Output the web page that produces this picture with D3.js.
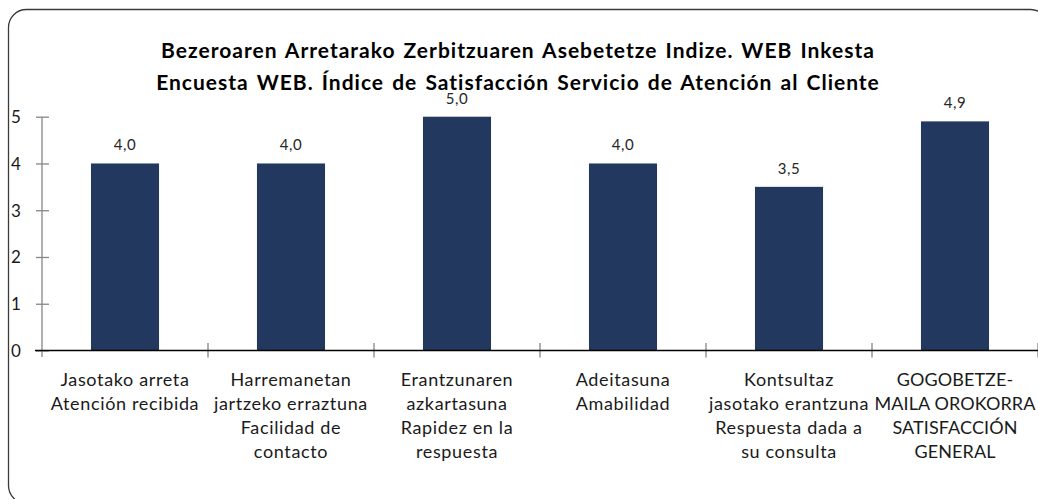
<!DOCTYPE html>
<html>
<head>
<meta charset="utf-8">
<script src="https://cdn.jsdelivr.net/npm/d3@7"></script>
<style>
  html, body { margin: 0; padding: 0; background: #fff; }
  svg { display: block; font-family: Lato, "Noto Sans", sans-serif; }
</style>
</head>
<body>
<svg id="chart" width="1038" height="499"></svg>
<script>
const titleLines = [
  "Bezeroaren Arretarako Zerbitzuaren Asebetetze Indize. WEB Inkesta",
  "Encuesta WEB. Índice de Satisfacción Servicio de Atención al Cliente"
];
const categories = [
  ["Jasotako arreta", "Atención recibida"],
  ["Harremanetan", "jartzeko erraztuna", "Facilidad de", "contacto"],
  ["Erantzunaren", "azkartasuna", "Rapidez en la", "respuesta"],
  ["Adeitasuna", "Amabilidad"],
  ["Kontsultaz", "jasotako erantzuna", "Respuesta dada a", "su consulta"],
  ["GOGOBETZE-", "MAILA OROKORRA", "SATISFACCIÓN", "GENERAL"]
];
const values = [4.0, 4.0, 5.0, 4.0, 3.5, 4.9];
const yTicks = [0, 1, 2, 3, 4, 5];

(function () {
const svg = d3.select("#chart");
const pLeft = 42, pRight = 1038, pTop = 116.7, pBottom = 350.5;

// frame
svg.append("rect")
  .attr("x", 8.5).attr("y", 9.5)
  .attr("width", 1040).attr("height", 494)
  .attr("rx", 18).attr("ry", 18)
  .attr("fill", "none").attr("stroke", "#3a3a3a").attr("stroke-width", 1.3);

const keys = categories.map((c, i) => "c" + i);
const x = d3.scaleBand().domain(keys).range([pLeft, pRight]).paddingInner(0.59).paddingOuter(0.295);
const xEdge = d3.scaleBand().domain(keys).range([pLeft, pRight]).padding(0);
const y = d3.scaleLinear().domain([0, 5]).range([pBottom, pTop]);

// bars
svg.append("g").selectAll("rect").data(values).join("rect")
  .attr("x", (d, i) => x(keys[i]))
  .attr("width", x.bandwidth())
  .attr("y", d => y(d))
  .attr("height", d => y(0) - y(d))
  .attr("fill", "#22385f");

// y axis
const yAxis = svg.append("g").attr("transform", `translate(${pLeft},0)`)
  .call(d3.axisLeft(y).tickValues(yTicks).tickSize(6).tickSizeOuter(0).tickPadding(14).tickFormat(d3.format("d")));
yAxis.select(".domain").attr("stroke", "#868686").attr("stroke-width", 1.3)
  .attr("d", `M0,${y(5)}V${pBottom + 6.5}`);
yAxis.selectAll(".tick line").attr("stroke", "#868686").attr("stroke-width", 1.3).attr("x1", 7).attr("x2", -6);
yAxis.selectAll(".tick text").attr("font-size", 17).attr("fill", "#1a1a1a")
  .attr("font-family", "Lato, sans-serif").attr("text-anchor", "start").attr("x", -31).attr("dy", "0.34em");

// x category boundary ticks
const edges = keys.map(k => xEdge(k)).slice(1).concat([pRight]);
svg.append("g").selectAll("line").data(edges).join("line")
  .attr("x1", d => d).attr("x2", d => d)
  .attr("y1", pBottom - 7.5).attr("y2", pBottom + 7)
  .attr("stroke", "#868686").attr("stroke-width", 1.3);

// x axis line
svg.append("line").attr("x1", 35).attr("x2", pRight).attr("y1", pBottom).attr("y2", pBottom)
  .attr("stroke", "#000").attr("stroke-width", 1.3);

// value labels
svg.append("g").selectAll("text").data(values).join("text")
  .attr("x", (d, i) => x(keys[i]) + x.bandwidth() / 2)
  .attr("y", d => y(d) - 13)
  .attr("text-anchor", "middle")
  .attr("font-size", 15).attr("letter-spacing", 0.5).attr("fill", "#262626")
  .text(d => d3.format(".1f")(d).replace(".", ","));

// category labels
const lab = svg.append("g");
categories.forEach((lines, i) => {
  const cx = xEdge(keys[i]) + xEdge.bandwidth() / 2;
  const t = lab.append("text").attr("text-anchor", "middle").attr("font-size", 18)
    .attr("letter-spacing", i === categories.length - 1 ? 0.1 : 0.65).attr("fill", "#1a1a1a");
  lines.forEach((ln, j) => {
    t.append("tspan").attr("x", cx).attr("y", 386 + j * 24).text(ln);
  });
});

// title
const title = svg.append("g");
titleLines.forEach((ln, j) => {
  title.append("text").attr("x", 518).attr("y", 58 + j * 31.5)
    .attr("text-anchor", "middle").attr("font-weight", "bold").attr("font-size", 21)
    .attr("letter-spacing", 1.0).attr("word-spacing", 2)
    .attr("fill", "#000").text(ln);
});
})();
</script>
</body>
</html>
